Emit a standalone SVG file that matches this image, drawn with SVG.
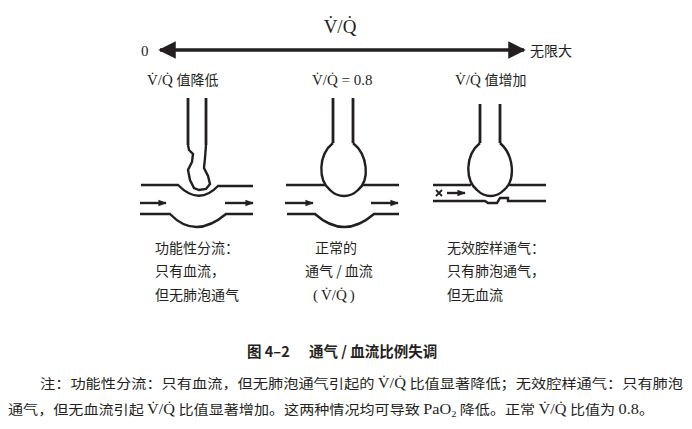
<svg xmlns="http://www.w3.org/2000/svg" width="692" height="429" viewBox="0 0 692 429">
<style>
.s{font-family:"Liberation Serif","Noto Sans CJK SC",serif;fill:#231f20}
.c{font-family:"Noto Sans CJK SC",sans-serif;fill:#231f20}
.w{fill:none;stroke:#231f20;stroke-width:2.4}
.t{fill:none;stroke:#231f20;stroke-width:2.8}
</style>
<defs>
<marker id="ah" viewBox="0 0 10 10" refX="9" refY="5" markerWidth="5" markerHeight="5" orient="auto-start-reverse"><path d="M0,0L10,5L0,10z" fill="#231f20"/></marker>
<marker id="sa" viewBox="0 0 10 10" refX="9" refY="5" markerWidth="3.5" markerHeight="3.5" orient="auto"><path d="M0,1L10,5L0,9z" fill="#231f20"/></marker>
</defs>
<rect width="692" height="429" fill="#fff"/>
<g id="axis">
<text class="s" x="340" y="33" font-size="19" text-anchor="middle">V̇/Q̇</text>
<line x1="160" y1="50" x2="524" y2="50" stroke="#231f20" stroke-width="3.5" marker-start="url(#ah)" marker-end="url(#ah)"/>
<text class="s" x="141" y="56" font-size="15">0</text>
<text class="c" x="530" y="56" font-size="14">无限大</text>
</g>
<g id="low">
<text class="s" x="147" y="85" font-size="15">V̇/Q̇ <tspan class="c" font-size="14">值降低</tspan></text>
<path class="t" d="M188,98V145M206,98V145"/>
<path class="w" d="M188,145 L189,150 193,154 192,162 188,170 190,180 194,188 199,190 206,189 210,184 208,176 204,168 205,158 206,145"/>
<path class="w" d="M141,185H178Q199,206 218,186H253"/>
<path class="w" d="M140,214H170Q195,240 226,214H253"/>
<line class="w" x1="140" y1="203" x2="166" y2="203" marker-end="url(#sa)"/>
<line class="w" x1="225" y1="203" x2="253" y2="203" marker-end="url(#sa)"/>
<text class="c" x="155" y="253" font-size="14">功能性分流：</text>
<text class="c" x="155" y="276" font-size="14">只有血流，</text>
<text class="c" x="155" y="300" font-size="14">但无肺泡通气</text>
</g>
<g id="normal">
<text class="s" x="312" y="85" font-size="15">V̇/Q̇ = 0.8</text>
<path class="t" d="M333,98V143M353,98V143"/>
<path class="w" d="M333,143 C318,155 318,180 330,190 C338,198 350,198 358,190 C370,180 368,155 353,143"/>
<path class="w" d="M286,185H326M362,185H399"/>
<path class="w" d="M287,214H315Q344,240 374,214H399"/>
<line class="w" x1="285" y1="203" x2="313" y2="203" marker-end="url(#sa)"/>
<line class="w" x1="371" y1="203" x2="398" y2="203" marker-end="url(#sa)"/>
<text class="c" x="315" y="253" font-size="14">正常的</text>
<text class="c" x="305" y="276" font-size="14">通气 / 血流</text>
<text class="s" x="313" y="300" font-size="15">(<tspan dx="3">V̇/Q̇</tspan><tspan dx="3">)</tspan></text>
</g>
<g id="high">
<text class="s" x="455" y="85" font-size="15">V̇/Q̇ <tspan class="c" font-size="14">值增加</tspan></text>
<path class="t" d="M480,104V143M500,104V143"/>
<path class="w" d="M480,143 C465,155 465,180 477,190 C485,198 496,198 504,190 C516,180 514,155 500,143"/>
<path class="w" d="M433,185H471M508,185H546"/>
<path class="w" d="M433,201H485L488,203 H497L500,198 H508V201H546"/>
<path d="M436,190L442,196M442,190L436,196" stroke="#231f20" stroke-width="1.8"/>
<line class="w" x1="447" y1="193" x2="465" y2="193" marker-end="url(#sa)"/>
<text class="c" x="447" y="253" font-size="14">无效腔样通气：</text>
<text class="c" x="447" y="276" font-size="14">只有肺泡通气，</text>
<text class="c" x="447" y="300" font-size="14">但无血流</text>
</g>
<g id="caption">
<text class="c" x="247" y="357" font-size="14.5" font-weight="bold">图 4–2<tspan x="309">通气 / 血流比例失调</tspan></text>
<text class="c" x="40" y="388" font-size="13" textLength="643" lengthAdjust="spacingAndGlyphs">注：功能性分流：只有血流，但无肺泡通气引起的 <tspan class="s" font-size="14">V̇/Q̇</tspan> 比值显著降低；无效腔样通气：只有肺泡</text>
<text class="c" x="8" y="414" font-size="13" textLength="646" lengthAdjust="spacingAndGlyphs">通气，但无血流引起 <tspan class="s" font-size="14">V̇/Q̇</tspan> 比值显著增加。这两种情况均可导致 <tspan class="s" font-size="14">PaO<tspan font-size="9" dy="3">2</tspan></tspan><tspan dy="-3"> 降低。正常 </tspan><tspan class="s" font-size="14">V̇/Q̇</tspan> 比值为 <tspan class="s" font-size="14">0.8</tspan>。</text>
</g>
</svg>
